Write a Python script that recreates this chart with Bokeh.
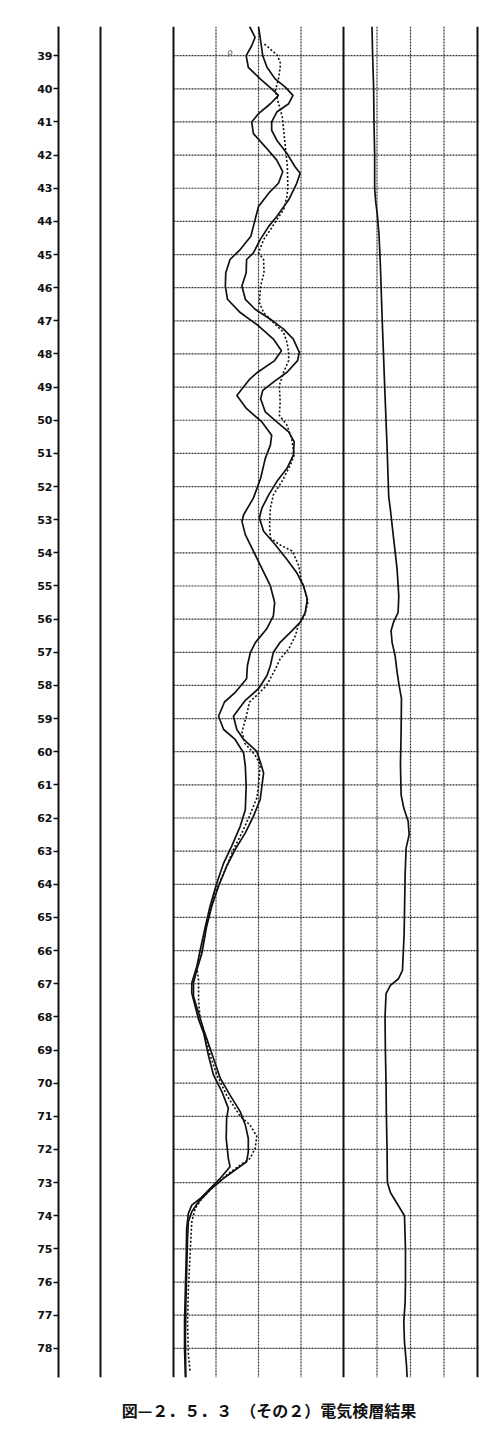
from bokeh.plotting import figure
from bokeh.models import Range1d, FixedTicker, Label, Title
from bokeh.embed import file_html
from bokeh.resources import INLINE

# ---------------- data (depth in m, readings in grid divisions) ----------------
depth_ticks = list(range(39, 79))

# middle track: left solid curve
a_depth = [38.12, 38.45, 38.7, 39.0, 39.35, 39.7, 40.0, 40.2, 40.45, 40.75, 41.0, 41.35, 41.75, 42.15, 42.5,
           42.85, 43.15, 43.55, 44.0, 44.45, 44.85, 45.15, 45.55, 45.95, 46.35, 46.75, 47.15, 47.55, 47.9,
           48.2, 48.55, 48.75, 49.25, 49.65, 50.05, 50.45, 50.75, 51.15, 51.75, 52.35, 52.85, 53.05, 53.45,
           53.95, 54.5, 55.0, 55.5, 55.9, 56.3, 56.7, 57.0, 57.4, 57.8, 58.2, 58.5, 58.93, 59.33, 59.63,
           60.04, 60.44, 61.04, 61.75, 62.25, 62.85, 63.36, 63.96, 64.66, 65.27, 65.97, 66.47, 66.98, 67.28,
           67.68, 68.08, 68.49, 69.15, 69.75, 70.26, 70.76, 71.06, 71.67, 72.27, 72.52, 72.87, 73.18, 73.48,
           73.68, 73.93, 74.38, 75.19, 76.19, 77.2, 78.0, 78.88]
a_val = [1.79, 1.92, 1.84, 1.71, 1.76, 2.04, 2.31, 2.47, 2.28, 2.00, 1.84, 1.88, 2.16, 2.43, 2.57,
         2.47, 2.24, 2.00, 1.91, 1.82, 1.57, 1.33, 1.23, 1.22, 1.27, 1.57, 2.00, 2.35, 2.54,
         2.38, 1.98, 1.80, 1.49, 1.72, 2.08, 2.31, 2.28, 2.16, 2.05, 1.88, 1.65, 1.61, 1.69,
         1.88, 2.09, 2.28, 2.38, 2.35, 2.19, 1.93, 1.81, 1.74, 1.72, 1.46, 1.20, 1.06, 1.18, 1.45,
         1.65, 1.69, 1.71, 1.69, 1.57, 1.37, 1.18, 1.02, 0.86, 0.75, 0.63, 0.55, 0.43, 0.43,
         0.51, 0.59, 0.71, 0.82, 0.94, 1.14, 1.29, 1.25, 1.24, 1.29, 1.33, 1.10, 0.86, 0.63,
         0.43, 0.35, 0.31, 0.30, 0.28, 0.26, 0.26, 0.28]

# middle track: right solid curve
b_depth = [38.12, 38.55, 39.0, 39.35, 39.7, 39.95, 40.2, 40.45, 40.7, 41.0, 41.25, 41.55, 41.95, 42.35,
           42.55, 42.85, 43.35, 43.85, 44.15, 44.55, 44.95, 45.15, 45.55, 45.95, 46.35, 46.65, 46.95,
           47.25, 47.55, 47.95, 48.2, 48.55, 48.85, 49.1, 49.35, 49.75, 50.05, 50.35, 50.65, 51.05,
           51.45, 51.85, 52.25, 52.65, 52.95, 53.35, 53.75, 54.2, 54.6, 55.0, 55.4, 55.8, 56.1, 56.4,
           56.7, 57.0, 57.4, 57.7, 58.1, 58.45, 58.93, 59.33, 59.63, 59.99, 60.34, 60.64, 61.04, 61.44,
           61.95, 62.45, 62.95, 63.46, 64.06, 64.66, 65.27, 66.07, 66.58, 66.98, 67.38, 67.88, 68.39,
           68.8, 69.25, 69.85, 70.36, 70.86, 71.26, 71.67, 72.07, 72.37, 72.62, 72.87, 73.22, 73.58,
           73.88, 74.18, 74.68, 75.69, 76.7, 77.7, 78.88]
b_val = [2.00, 2.05, 2.10, 2.20, 2.39, 2.63, 2.81, 2.71, 2.43, 2.31, 2.31, 2.43, 2.67, 2.86,
         2.98, 2.90, 2.71, 2.43, 2.24, 2.04, 1.88, 1.72, 1.71, 1.61, 1.69, 1.92, 2.28,
         2.59, 2.82, 2.96, 2.92, 2.67, 2.35, 2.10, 2.05, 2.16, 2.43, 2.71, 2.84, 2.82,
         2.67, 2.43, 2.24, 2.08, 2.02, 2.12, 2.39, 2.67, 2.90, 3.06, 3.15, 3.10, 2.98, 2.75,
         2.51, 2.35, 2.28, 2.20, 2.00, 1.69, 1.41, 1.49, 1.65, 1.96, 2.05, 2.12, 2.08, 2.04,
         1.88, 1.69, 1.45, 1.25, 1.06, 0.90, 0.78, 0.67, 0.55, 0.47, 0.47, 0.59, 0.71,
         0.82, 0.94, 1.10, 1.33, 1.57, 1.69, 1.76, 1.76, 1.72, 1.45, 1.18, 0.86, 0.59,
         0.43, 0.35, 0.33, 0.31, 0.29, 0.28, 0.29]

# middle track: dotted curve
c_depth = [38.65, 38.98, 39.24, 39.64, 40.04, 40.34, 40.85, 41.35, 41.85, 42.36, 42.96, 43.25, 43.65,
           43.95, 44.25, 44.55, 44.95, 45.15, 45.55, 45.95, 46.45, 46.75, 47.05, 47.35, 47.65, 47.95,
           48.2, 48.55, 48.95, 49.45, 49.85, 50.15, 50.55, 51.05, 51.35, 51.85, 52.25, 52.65, 53.15,
           53.55, 53.75, 53.95, 54.4, 54.8, 55.2, 55.5, 55.9, 56.2, 56.5, 56.9, 57.2, 57.5, 58.0, 58.3,
           58.5, 58.95, 59.4, 59.75, 60.1, 60.4, 61.0, 61.4, 61.9, 62.45, 62.95, 63.55, 64.25, 65.2,
           66.0, 66.5, 66.9, 67.5, 68.1, 68.6, 69.15, 69.75, 70.36, 70.76, 71.0, 71.26, 71.6, 71.97,
           72.27, 72.47, 72.77, 73.12, 73.48, 73.78, 74.18, 75.19, 76.19, 77.2, 78.2, 78.7]
c_val = [2.14, 2.44, 2.52, 2.48, 2.40, 2.45, 2.56, 2.60, 2.64, 2.68, 2.69, 2.67, 2.59,
         2.43, 2.28, 2.12, 2.00, 2.12, 2.13, 2.05, 2.02, 2.12, 2.35, 2.59, 2.67, 2.71,
         2.71, 2.59, 2.49, 2.51, 2.49, 2.67, 2.78, 2.84, 2.75, 2.55, 2.35, 2.28, 2.26,
         2.28, 2.49, 2.80, 2.95, 3.00, 3.11, 3.16, 3.08, 2.93, 2.87, 2.71, 2.51, 2.40, 2.19, 1.96,
         1.79, 1.71, 1.61, 1.68, 1.92, 2.04, 2.00, 1.96, 1.80, 1.61, 1.41, 1.22, 0.98, 0.78,
         0.67, 0.55, 0.59, 0.59, 0.63, 0.75, 0.86, 1.02, 1.25, 1.45, 1.57, 1.80, 1.96, 1.92,
         1.80, 1.57, 1.25, 0.94, 0.67, 0.51, 0.43, 0.39, 0.35, 0.33, 0.35, 0.39]

# right track curve
d_depth = [38.12, 39.0, 40.0, 41.0, 42.0, 43.0, 43.4, 43.8, 44.4, 45.3, 47.1, 49.0, 50.8, 52.3, 52.7,
           53.6, 54.5, 55.3, 55.8, 56.1, 56.35, 56.7, 57.1, 57.6, 58.0, 58.4, 59.4, 60.4, 61.3, 61.7,
           62.1, 62.5, 62.9, 63.7, 65.5, 66.6, 66.85, 67.05, 67.3, 68.0, 69.0, 70.0, 71.0, 72.0, 73.0,
           73.3, 73.7, 74.0, 75.0, 76.0, 76.6, 77.2, 77.8, 78.5, 78.88]
d_val = [0.85, 0.87, 0.90, 0.91, 0.93, 0.93, 0.96, 1.01, 1.06, 1.10, 1.16, 1.23, 1.30, 1.35, 1.40,
         1.50, 1.60, 1.65, 1.63, 1.49, 1.42, 1.45, 1.54, 1.60, 1.66, 1.73, 1.72, 1.70, 1.72, 1.80,
         1.93, 1.96, 1.87, 1.84, 1.81, 1.76, 1.64, 1.40, 1.27, 1.24, 1.25, 1.27, 1.28, 1.30, 1.31,
         1.40, 1.64, 1.82, 1.85, 1.85, 1.84, 1.80, 1.82, 1.88, 1.90]

caption = "図—２．５．３　（その２）電気検層結果"

# ---------------- layout ----------------
DEPTH_TOP, DEPTH_BOT = 38.12, 78.88
FRAME_W = 421                       # px
MID_OFF, MID_DIV = 115, 42.5        # middle track left offset in frame, px per division
RES_OFF, RES_DIV = 285, 33.5        # right track
BLANK_OFF = 42                      # inner blank-column boundary

mid_start = -MID_OFF / MID_DIV
mid_end = (FRAME_W - MID_OFF) / MID_DIV
res_start = -RES_OFF / RES_DIV
res_end = (FRAME_W - RES_OFF) / RES_DIV

p = figure(width=499, height=1443, output_backend="svg", toolbar_location=None,
           x_range=Range1d(mid_start, mid_end), y_range=Range1d(DEPTH_BOT, DEPTH_TOP),
           x_axis_location=None, min_border_left=58, min_border_right=20,
           min_border_top=26, min_border_bottom=66)
p.extra_x_ranges = {"res": Range1d(res_start, res_end)}
p.outline_line_color = None
p.xgrid.visible = False
p.ygrid.visible = False
p.background_fill_color = "white"

ax = p.yaxis[0]
ax.ticker = FixedTicker(ticks=depth_ticks)
ax.axis_line_width = 2
ax.axis_line_color = "#111111"
ax.major_tick_out = 5
ax.major_tick_in = 0
ax.major_tick_line_width = 1.5
ax.major_tick_line_color = "#111111"
ax.minor_tick_line_color = None
ax.major_label_standoff = 1
ax.major_label_text_font = "DejaVu Sans"
ax.major_label_text_font_style = "bold"
ax.major_label_text_font_size = "11px"
ax.major_label_text_color = "#111111"

grid_col = "#333333"
# horizontal grid (both tracks)
p.segment(x0=[0] * len(depth_ticks), x1=[mid_end] * len(depth_ticks), y0=depth_ticks, y1=depth_ticks,
          line_color=grid_col, line_width=1.2, line_dash="2 1")
# vertical dotted grid
p.segment(x0=[1, 2, 3], x1=[1, 2, 3], y0=[DEPTH_TOP] * 3, y1=[DEPTH_BOT] * 3,
          line_color=grid_col, line_width=1.2, line_dash="2 1")
p.segment(x0=[1, 2, 3], x1=[1, 2, 3], y0=[DEPTH_TOP] * 3, y1=[DEPTH_BOT] * 3,
          line_color=grid_col, line_width=1.2, line_dash="2 1", x_range_name="res")
# thick column lines
blank_u = (BLANK_OFF - MID_OFF) / MID_DIV
p.segment(x0=[blank_u, 0, 4], x1=[blank_u, 0, 4], y0=[DEPTH_TOP] * 3, y1=[DEPTH_BOT] * 3,
          line_color="#111111", line_width=2)
p.segment(x0=[4], x1=[4], y0=[DEPTH_TOP], y1=[DEPTH_BOT], line_color="#111111", line_width=2,
          x_range_name="res")

# curves
p.line(a_val, a_depth, line_color="#111111", line_width=1.7)
p.line(b_val, b_depth, line_color="#111111", line_width=1.7)
p.line(c_val, c_depth, line_color="#111111", line_width=1.6, line_dash="2 2")
p.line(d_val, d_depth, line_color="#111111", line_width=1.7, x_range_name="res")

# small mark
p.add_layout(Label(x=1.33, y=38.89, text="ρ", text_font_size="9px", text_color="#555555",
                   text_align="center", text_baseline="middle"))

# caption
p.add_layout(Title(text=caption, align="center", text_font="Noto Sans CJK JP",
                   text_font_style="bold", text_font_size="16px", text_color="#111111",
                   standoff=37), "below")

open("out.html", "w").write(file_html(p, INLINE))
